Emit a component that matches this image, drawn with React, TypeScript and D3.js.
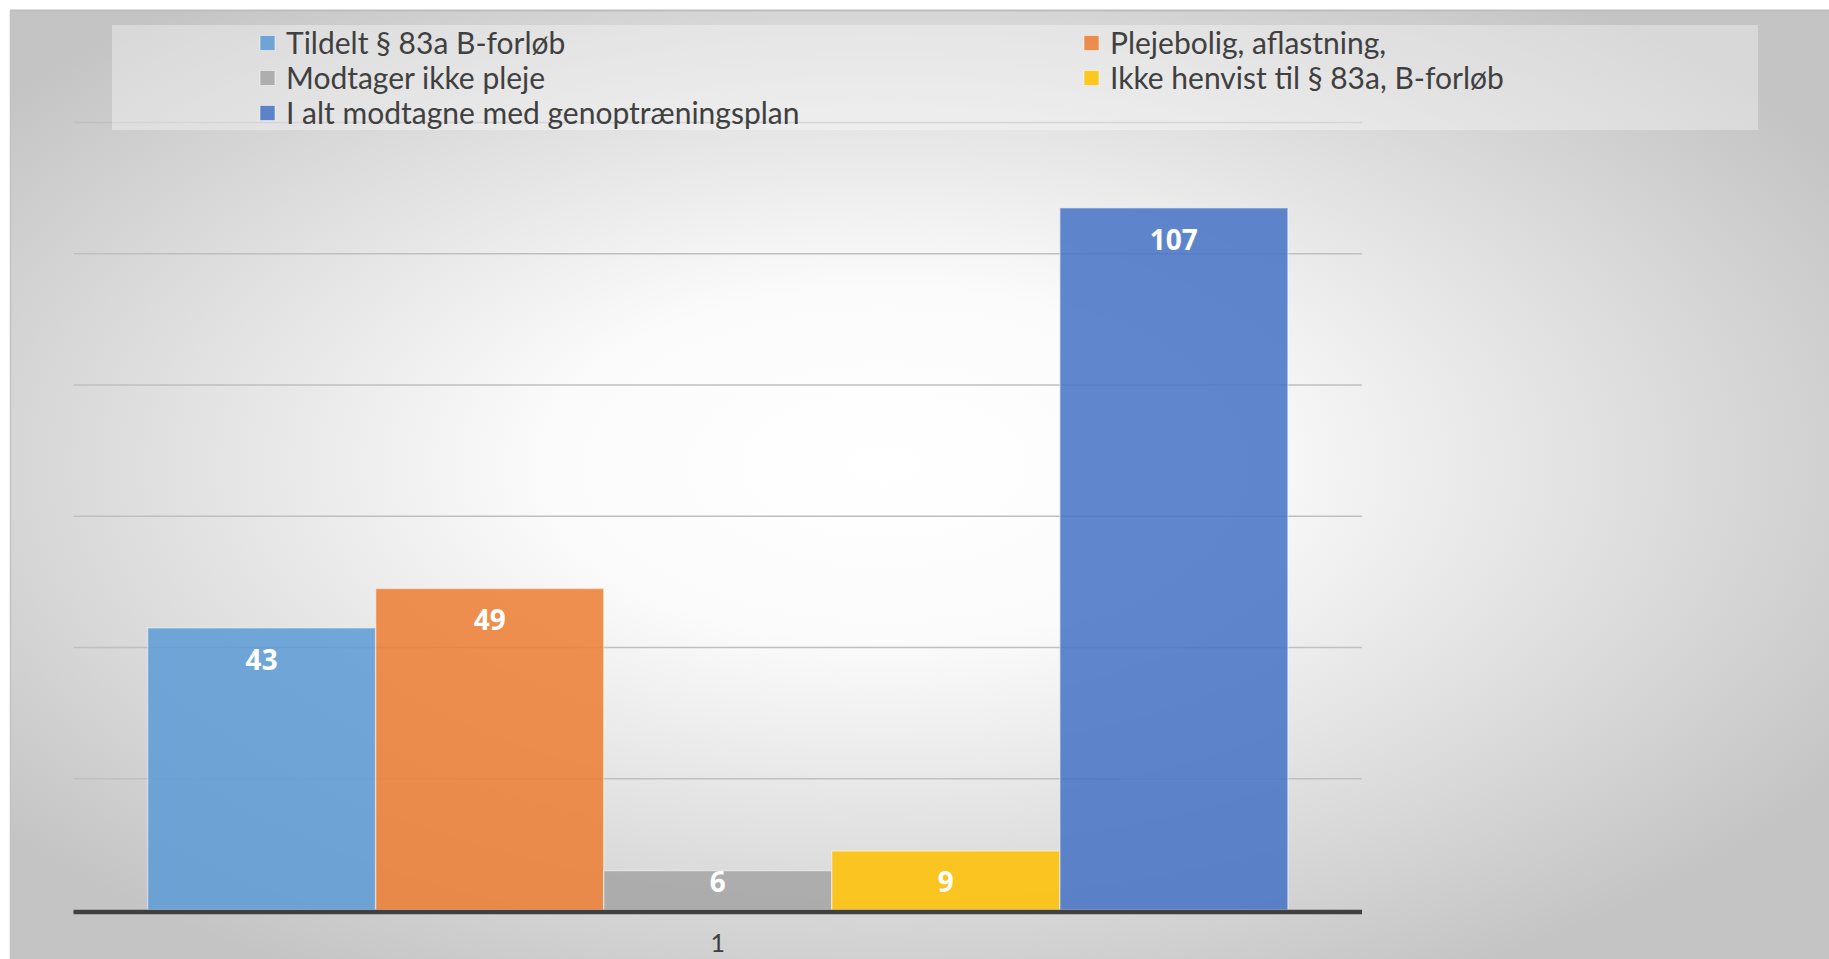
import * as d3 from "d3";

const categories = ["1"];
const seriesNames = [
  "Tildelt § 83a B-forløb",
  "Plejebolig, aflastning,",
  "Modtager ikke pleje",
  "Ikke henvist til § 83a, B-forløb",
  "I alt modtagne med genoptræningsplan",
];
const seriesValues = [43, 49, 6, 9, 107];
const colors = ["#5B9BD5", "#ED7D31", "#A5A5A5", "#FFC000", "#4472C4"];
const yTicks = [0, 20, 40, 60, 80, 100, 120];

const W = 1829;
const H = 959;
const plot = { left: 73.5, right: 1362, top: 122.5, bottom: 910 };

const App = () => {
  const x0 = d3
    .scaleBand<string>()
    .domain(categories)
    .range([plot.left, plot.right])
    .paddingInner(0)
    .paddingOuter(0.065);
  const x1 = d3
    .scaleBand<string>()
    .domain(seriesNames)
    .range([0, x0.bandwidth()]);
  const y = d3
    .scaleLinear()
    .domain([0, yTicks[yTicks.length - 1]])
    .range([plot.bottom, plot.top]);

  return (
    <svg
      width={W}
      height={H}
      style={{ position: "absolute", left: 0, top: 0 }}
    >
      <defs>
        <radialGradient id="bg" cx="0.48" cy="0.48" r="0.62">
          <stop offset="0" stopColor="#ffffff" />
          <stop offset="0.3" stopColor="#fbfbfb" />
          <stop offset="1" stopColor="#c4c4c4" />
        </radialGradient>
      </defs>
      <rect x={0} y={0} width={W} height={H} fill="#ffffff" />
      <rect x={10} y={10} width={W - 10} height={H - 10} fill="url(#bg)" />
      <line x1={10} x2={W} y1={10.5} y2={10.5} stroke="#bdbdbd" strokeWidth={2} />
      <line x1={10.5} x2={10.5} y1={10} y2={H} stroke="#c2c2c2" strokeWidth={1.5} />

      {/* gridlines */}
      {yTicks.slice(1).map((t) => (
        <line
          key={t}
          x1={plot.left}
          x2={plot.right}
          y1={y(t)}
          y2={y(t)}
          stroke="#bfbfbf"
          strokeWidth={1.3}
        />
      ))}

      {/* legend */}
      <rect x={112} y={25} width={1646} height={105} fill="#ffffff" fillOpacity={0.35} />
      {seriesNames.map((name, i) => {
        const col = i % 2;
        const row = Math.floor(i / 2);
        const sx = col === 0 ? 260 : 1084;
        const cy = 43 + row * 35;
        return (
          <g key={name}>
            <rect
              x={sx}
              y={cy - 7.5}
              width={15}
              height={15}
              fill={colors[i]}
              fillOpacity={0.85}
              stroke="#ffffff"
              strokeOpacity={0.5}
            />
            <text
              x={sx + 26}
              y={cy}
              dy="0.36em"
              fontFamily="Lato, 'Open Sans', sans-serif"
              fontSize={30}
              fill="#404040"
            >
              {name}
            </text>
          </g>
        );
      })}

      {/* bars */}
      {categories.map((c) => (
        <g key={c} transform={`translate(${x0(c)},0)`}>
          {seriesNames.map((s, i) => {
            const v = seriesValues[i];
            const bx = x1(s)!;
            const labelY = Math.min(y(v) + 42, y(0) - 18);
            return (
              <g key={s}>
                <rect
                  x={bx}
                  y={y(v)}
                  width={x1.bandwidth()}
                  height={y(0) - y(v)}
                  fill={colors[i]}
                  fillOpacity={0.85}
                  stroke="#ffffff"
                  strokeOpacity={0.45}
                  strokeWidth={1.5}
                />
                <text
                  x={bx + x1.bandwidth() / 2}
                  y={labelY}
                  textAnchor="middle"
                  fontFamily="'Open Sans', sans-serif"
                  fontWeight="bold"
                  fontSize={28}
                  fill="#ffffff"
                >
                  {v}
                </text>
              </g>
            );
          })}
          <text
            x={x0.bandwidth() / 2}
            y={952}
            textAnchor="middle"
            fontFamily="Lato, 'Open Sans', sans-serif"
            fontSize={25}
            fill="#404040"
          >
            {c}
          </text>
        </g>
      ))}

      {/* axis line */}
      <line
        x1={plot.left}
        x2={plot.right}
        y1={y(0) + 2}
        y2={y(0) + 2}
        stroke="#404040"
        strokeWidth={4.5}
      />
    </svg>
  );
};

export default App;
